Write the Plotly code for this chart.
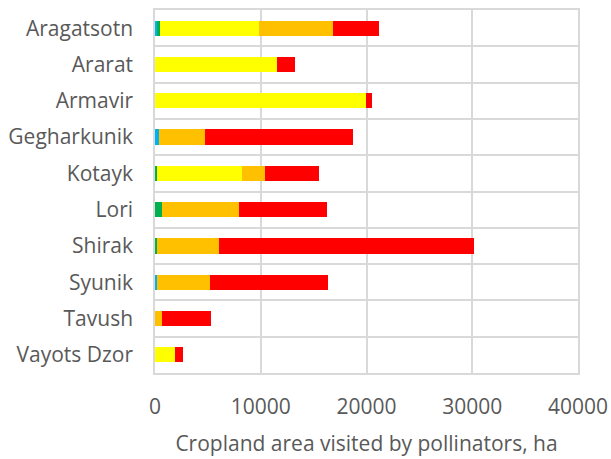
import plotly.graph_objects as go

regions = ["Aragatsotn", "Ararat", "Armavir", "Gegharkunik", "Kotayk",
           "Lori", "Shirak", "Syunik", "Tavush", "Vayots Dzor"]

# Cropland area (ha) by pollinator visitation class, stacked left to right
class_blue = [150, 0, 0, 350, 0, 0, 0, 200, 0, 0]
class_green = [330, 0, 0, 0, 150, 690, 200, 0, 0, 0]
class_yellow = [9380, 11560, 19970, 0, 8070, 0, 0, 0, 0, 1890]
class_orange = [6960, 0, 0, 4400, 2150, 7250, 5880, 5030, 660, 0]
class_red = [4320, 1700, 570, 14000, 5160, 8320, 24070, 11090, 4660, 790]

series = [
    (class_blue, "#00B0F0"),
    (class_green, "#00B050"),
    (class_yellow, "#FFFF00"),
    (class_orange, "#FFC000"),
    (class_red, "#FF0000"),
]

x_ticks = [0, 10000, 20000, 30000, 40000]
positions = list(range(len(regions)))

fig = go.Figure()
for values, color in series:
    fig.add_trace(go.Bar(
        y=positions, x=values, orientation="h",
        marker=dict(color=color, line=dict(width=0)),
        width=0.42, showlegend=False,
    ))

font_family = "Open Sans, sans-serif"
grid = "#D9D9D9"

fig.update_layout(
    barmode="stack",
    width=611, height=459,
    margin=dict(l=155, r=33, t=10, b=86),
    paper_bgcolor="white", plot_bgcolor="white",
    font=dict(family=font_family, size=21, color="#595959"),
    xaxis=dict(
        range=[0, 40000], tickvals=x_ticks,
        ticktext=[str(v) for v in x_ticks],
        automargin=False,
        showgrid=True, gridcolor=grid, gridwidth=1.5,
        zeroline=False, showline=True, mirror=True,
        linecolor=grid, linewidth=1.5,
        ticks="outside", ticklen=14, tickcolor="rgba(0,0,0,0)",
        title=dict(text="Cropland area visited by pollinators, ha",
                   standoff=17, font=dict(size=21, color="#595959")),
    ),
    yaxis=dict(
        range=[len(regions) - 0.5, -0.5],
        tickvals=positions, ticktext=regions,
        automargin=False,
        showgrid=False, zeroline=False,
        showline=True, mirror=True, linecolor=grid, linewidth=1.5,
        ticks="", ticklabelstandoff=16,
        minor=dict(tickvals=[p + 0.5 for p in range(-1, len(regions))],
                   showgrid=True, gridcolor=grid, gridwidth=1.5,
                   ticks=""),
    ),
)

fig.write_html("out.html")
